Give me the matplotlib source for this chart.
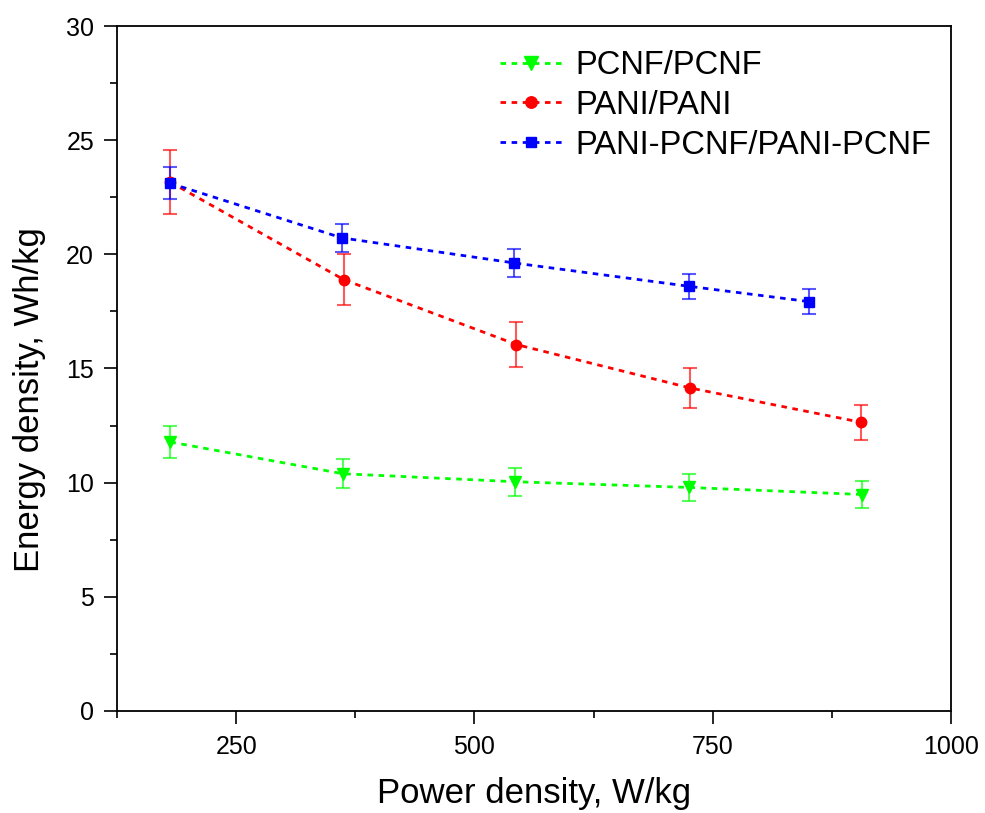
import matplotlib
matplotlib.use("Agg")
import matplotlib.pyplot as plt
from matplotlib.ticker import MultipleLocator

plt.rcParams['font.family'] = ['Liberation Sans', 'DejaVu Sans']

# Data
pcnf_x = [181, 362, 543, 725, 907]
pcnf_y = [11.78, 10.39, 10.04, 9.79, 9.48]
pcnf_err = [0.70, 0.63, 0.62, 0.60, 0.58]

pani_x = [181, 363, 544, 726, 906]
pani_y = [23.16, 18.89, 16.05, 14.15, 12.64]
pani_err = [1.39, 1.13, 0.98, 0.87, 0.77]

hyb_x = [181, 361, 542, 725, 851]
hyb_y = [23.11, 20.72, 19.62, 18.60, 17.93]
hyb_err = [0.70, 0.63, 0.60, 0.56, 0.54]

labels = ["PCNF/PCNF", "PANI/PANI", "PANI-PCNF/PANI-PCNF"]

fig = plt.figure(figsize=(9.85, 8.13), dpi=100)
ax = fig.add_axes([0.1188, 0.1255, 0.8467, 0.8425])

dot = (0, (2, 2))
series = [
    (pcnf_x, pcnf_y, pcnf_err, '#00ff00', 'v', 9),
    (pani_x, pani_y, pani_err, '#ff0000', 'o', 7.5),
    (hyb_x, hyb_y, hyb_err, '#0000ff', 's', 6.5),
]
handles = []
for (x, y, e, c, m, ms), lab in zip(series, labels):
    ax.errorbar(x, y, yerr=e, fmt='none', ecolor=c, elinewidth=1.5,
                capsize=5, capthick=1.5, alpha=0.65, zorder=2)
    h, = ax.plot(x, y, linestyle=dot, color=c, linewidth=2, marker=m,
                 markersize=ms, markerfacecolor=c, markeredgecolor=c,
                 label=lab, zorder=3)
    handles.append(h)

ax.set_xlim(125, 1000)
ax.set_ylim(0, 30)
ax.xaxis.set_major_locator(MultipleLocator(250))
ax.xaxis.set_minor_locator(MultipleLocator(125))
ax.yaxis.set_major_locator(MultipleLocator(5))
ax.yaxis.set_minor_locator(MultipleLocator(2.5))
ax.tick_params(which='major', direction='out', length=9.5, width=1.2,
               labelsize=18, top=False, right=False)
ax.tick_params(which='minor', direction='out', length=5, width=1.2,
               top=False, right=False)
ax.tick_params(axis='x', pad=8)
ax.tick_params(axis='y', pad=7)
for s in ax.spines.values():
    s.set_linewidth(1.3)

ax.set_xlabel("Power density, W/kg", fontsize=25)
ax.set_ylabel("Energy density, Wh/kg", fontsize=25)
ax.xaxis.set_label_coords(0.5, -0.097)
ax.yaxis.set_label_coords(-0.085, 0.454)

leg = ax.legend(handles=handles, loc='upper left', bbox_to_anchor=(0.459, 0.965),
                frameon=False, fontsize=23.5, handlelength=1.9, handletextpad=0.4,
                labelspacing=0.27, borderaxespad=0, borderpad=0, markerscale=1.1)

fig.savefig("out.png", dpi=100)
